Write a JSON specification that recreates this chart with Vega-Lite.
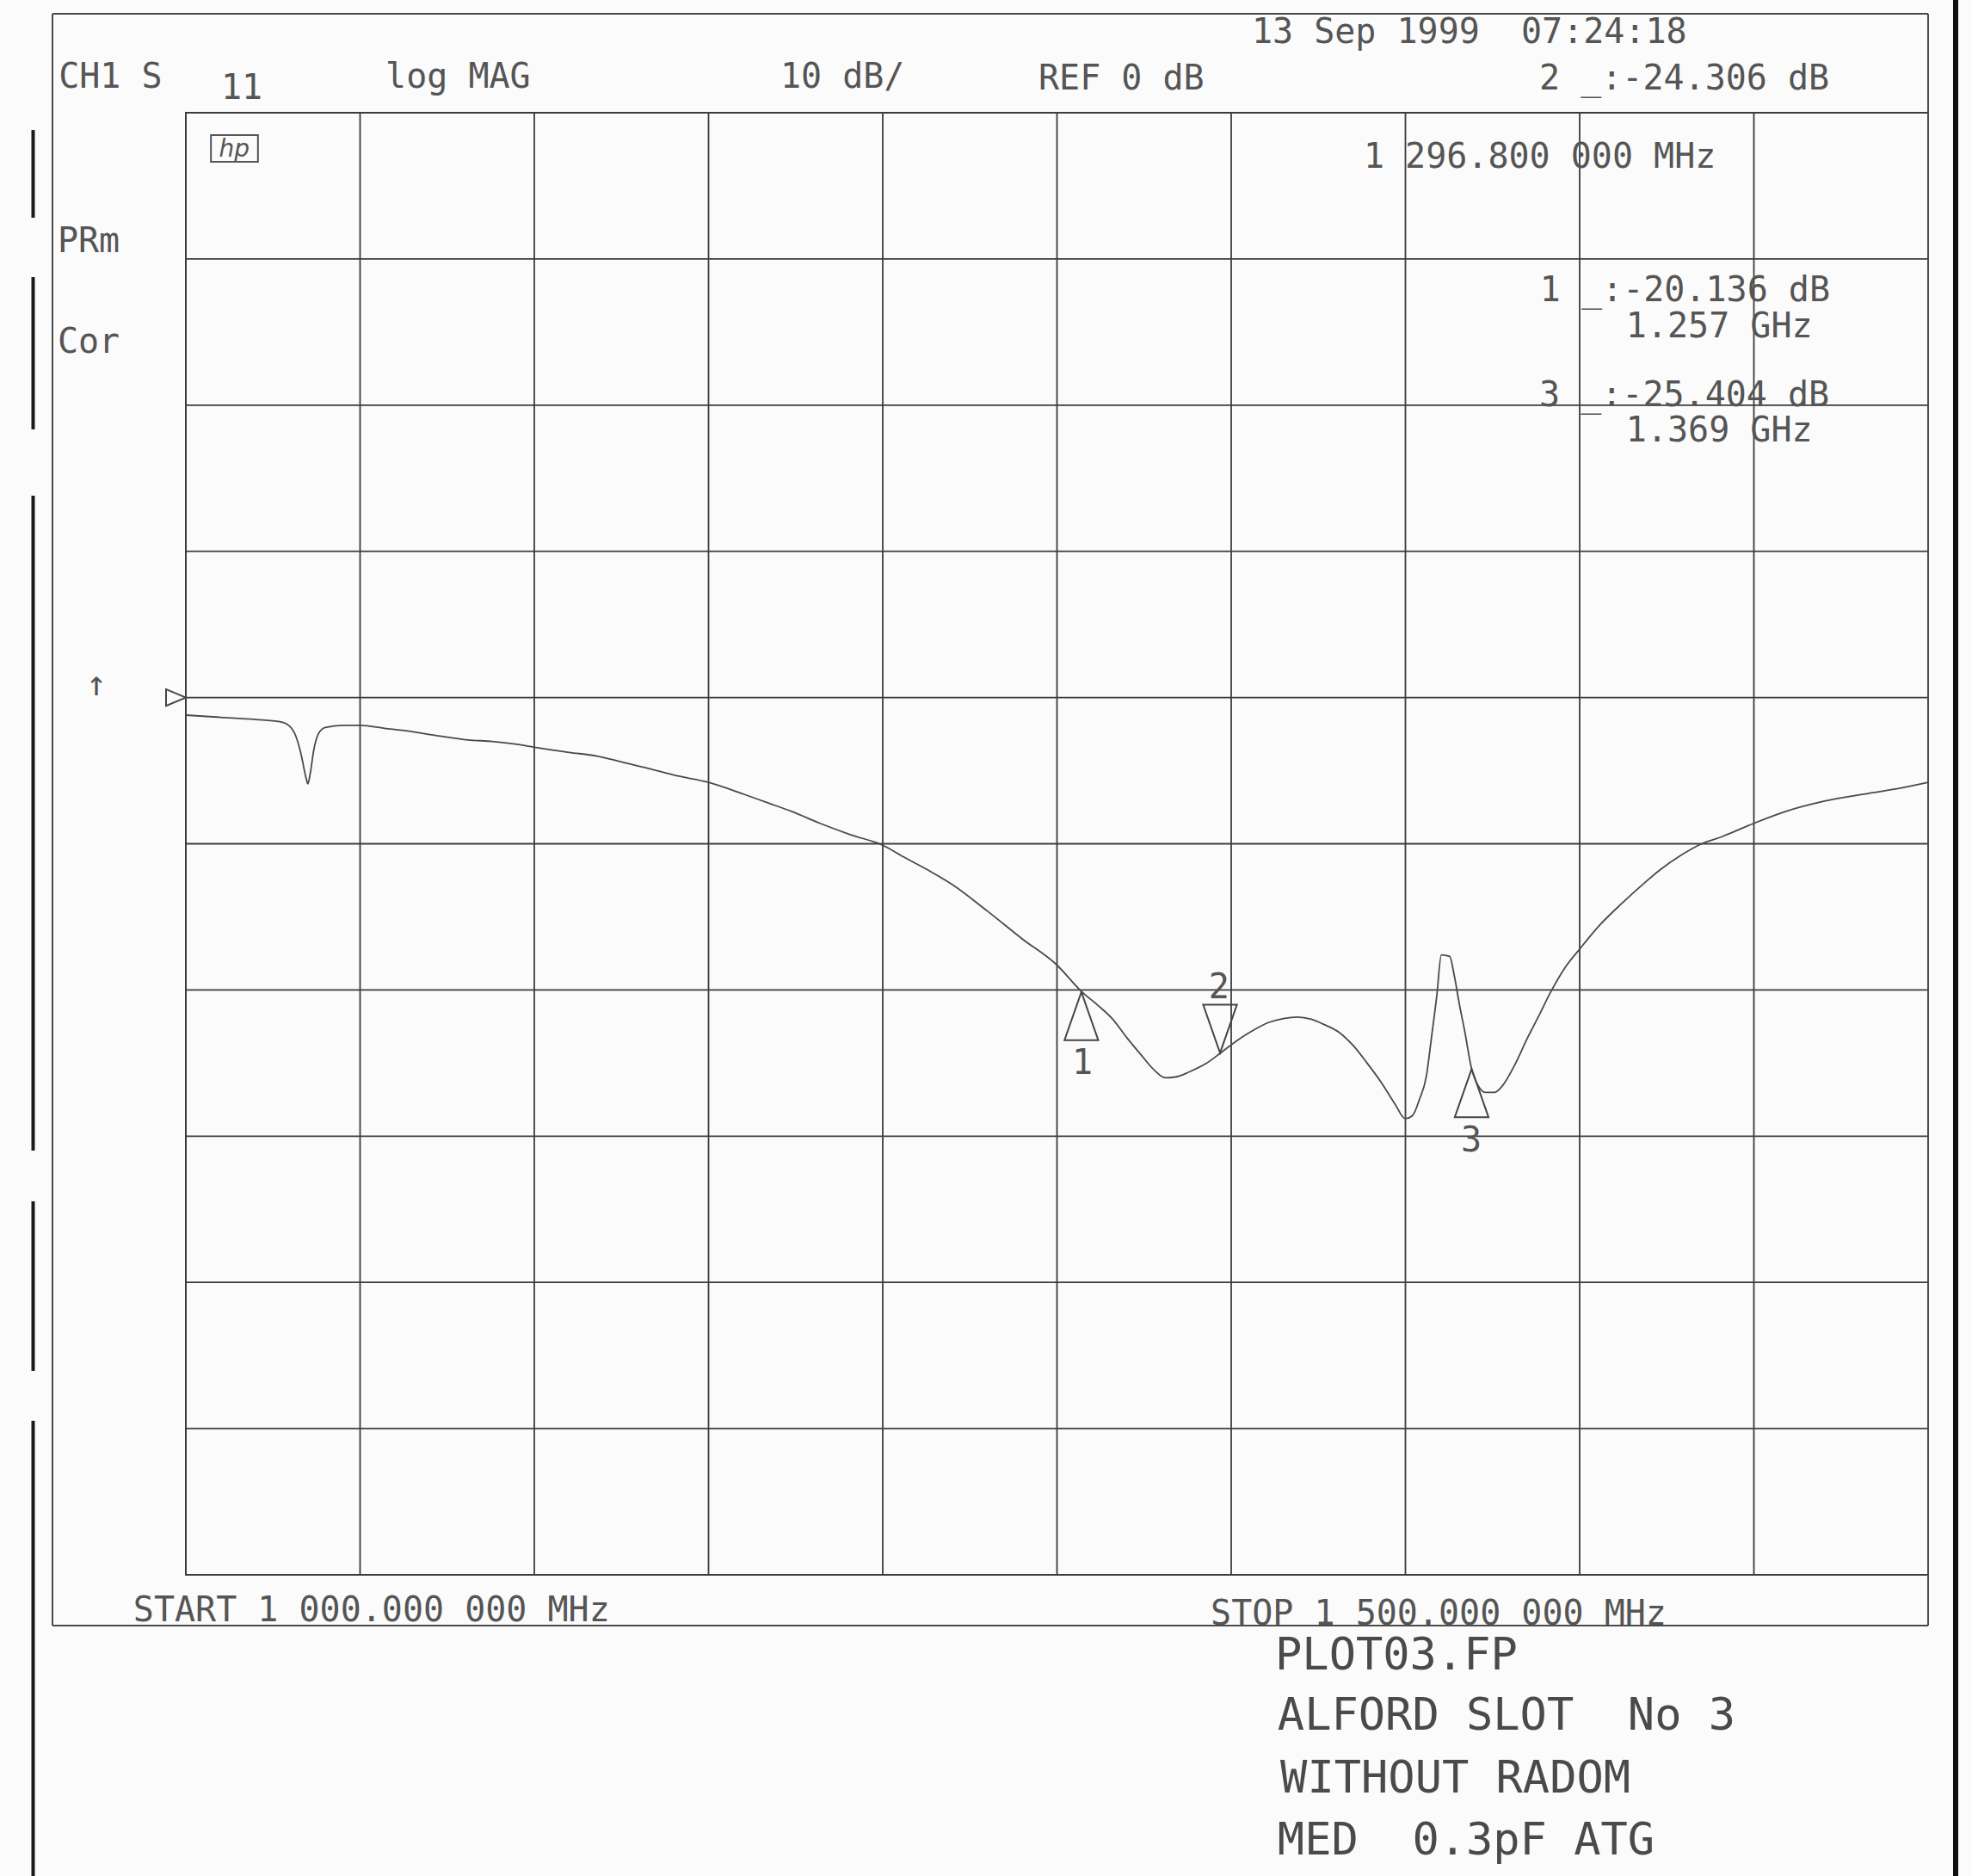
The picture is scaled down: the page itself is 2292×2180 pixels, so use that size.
{
  "$schema": "https://vega.github.io/schema/vega-lite/v6.json",
  "width": 2025,
  "height": 1699,
  "autosize": {"type": "none"},
  "padding": {"left": 216, "top": 131, "right": 51, "bottom": 350},
  "background": "#fbfbfb",
  "config": {"view": {"stroke": "#3c3c3c", "strokeWidth": 2}},
  "datasets": {
    "trace": [
      {"freq": 1000, "db": -1.2}, {"freq": 1010, "db": -1.35}, {"freq": 1020, "db": -1.5}, {"freq": 1027, "db": -1.65},
      {"freq": 1029.5, "db": -1.9}, {"freq": 1031.5, "db": -2.6}, {"freq": 1033, "db": -3.8}, {"freq": 1034.5, "db": -5.5},
      {"freq": 1035, "db": -5.9}, {"freq": 1035.7, "db": -5.2}, {"freq": 1036.7, "db": -3.6}, {"freq": 1038, "db": -2.5},
      {"freq": 1040, "db": -2.05}, {"freq": 1045, "db": -1.9}, {"freq": 1050, "db": -1.9}, {"freq": 1057, "db": -2.1},
      {"freq": 1064, "db": -2.3}, {"freq": 1072, "db": -2.6}, {"freq": 1081, "db": -2.9}, {"freq": 1088, "db": -3.0},
      {"freq": 1095, "db": -3.2}, {"freq": 1100, "db": -3.4}, {"freq": 1110, "db": -3.75}, {"freq": 1118, "db": -4.0},
      {"freq": 1125, "db": -4.4}, {"freq": 1132, "db": -4.8}, {"freq": 1140, "db": -5.3}, {"freq": 1150, "db": -5.8},
      {"freq": 1160, "db": -6.6}, {"freq": 1167, "db": -7.2}, {"freq": 1174, "db": -7.8}, {"freq": 1182, "db": -8.6},
      {"freq": 1191, "db": -9.4}, {"freq": 1200, "db": -10.1}, {"freq": 1206, "db": -10.9}, {"freq": 1213, "db": -11.8},
      {"freq": 1220, "db": -12.8}, {"freq": 1230, "db": -14.6}, {"freq": 1240, "db": -16.5}, {"freq": 1250, "db": -18.3},
      {"freq": 1257, "db": -20.1}, {"freq": 1262, "db": -21.1}, {"freq": 1266, "db": -22.0}, {"freq": 1270, "db": -23.25},
      {"freq": 1274, "db": -24.4}, {"freq": 1278, "db": -25.5}, {"freq": 1281, "db": -26.0}, {"freq": 1284, "db": -25.95},
      {"freq": 1288, "db": -25.6}, {"freq": 1293, "db": -25.0}, {"freq": 1297, "db": -24.3}, {"freq": 1302, "db": -23.4},
      {"freq": 1306, "db": -22.8}, {"freq": 1311, "db": -22.2}, {"freq": 1315, "db": -21.95}, {"freq": 1319, "db": -21.85},
      {"freq": 1323, "db": -22.0}, {"freq": 1327, "db": -22.4}, {"freq": 1331, "db": -22.9}, {"freq": 1335, "db": -23.8},
      {"freq": 1339, "db": -25.0}, {"freq": 1343, "db": -26.3}, {"freq": 1347, "db": -27.8}, {"freq": 1350, "db": -28.8},
      {"freq": 1352, "db": -28.6}, {"freq": 1354, "db": -27.5}, {"freq": 1356, "db": -25.9}, {"freq": 1357.5, "db": -23.2},
      {"freq": 1359, "db": -20.4}, {"freq": 1360.3, "db": -17.6}, {"freq": 1362.7, "db": -17.7}, {"freq": 1364, "db": -19.0},
      {"freq": 1365.5, "db": -21.0}, {"freq": 1367, "db": -22.8}, {"freq": 1369, "db": -25.4}, {"freq": 1371, "db": -26.6},
      {"freq": 1372.8, "db": -27.0}, {"freq": 1375.6, "db": -27.0}, {"freq": 1378, "db": -26.5}, {"freq": 1381, "db": -25.3},
      {"freq": 1385, "db": -23.3}, {"freq": 1388, "db": -21.9}, {"freq": 1392, "db": -20.0}, {"freq": 1396, "db": -18.4},
      {"freq": 1400, "db": -17.2}, {"freq": 1406, "db": -15.5}, {"freq": 1412, "db": -14.1}, {"freq": 1418, "db": -12.8},
      {"freq": 1423, "db": -11.8}, {"freq": 1429, "db": -10.8}, {"freq": 1435, "db": -10.0}, {"freq": 1441, "db": -9.5},
      {"freq": 1450, "db": -8.6}, {"freq": 1459, "db": -7.8}, {"freq": 1470, "db": -7.1}, {"freq": 1483, "db": -6.55},
      {"freq": 1492, "db": -6.2}, {"freq": 1500, "db": -5.8}
    ],
    "vgrid": [{"freq": 1050}, {"freq": 1100}, {"freq": 1150}, {"freq": 1200}, {"freq": 1250}, {"freq": 1300}, {"freq": 1350}, {"freq": 1400}, {"freq": 1450}],
    "hgrid": [{"db": 30}, {"db": 20}, {"db": 10}, {"db": 0}, {"db": -10}, {"db": -20}, {"db": -30}, {"db": -40}, {"db": -50}],
    "markers": [
      {"marker": "1", "freq": 1257, "db": -20.136, "dir": "up"},
      {"marker": "2", "freq": 1296.8, "db": -24.306, "dir": "down"},
      {"marker": "3", "freq": 1369, "db": -25.404, "dir": "up"}
    ],
    "reference": [{"freq": 1000, "db": 0}],
    "hptext": [
      {"label": "CH1 S", "freq": 963.5, "db": 41.71},
      {"label": "11", "freq": 1010.1, "db": 40.94},
      {"label": "log MAG", "freq": 1057.3, "db": 41.71},
      {"label": "10 dB/", "freq": 1170.6, "db": 41.71},
      {"label": "REF 0 dB", "freq": 1244.7, "db": 41.59},
      {"label": "13 Sep 1999\u00a0\u00a007:24:18", "freq": 1305.9, "db": 44.77},
      {"label": "2 _:-24.306 dB", "freq": 1388.4, "db": 41.59},
      {"label": "1 296.800 000 MHz", "freq": 1338.0, "db": 36.23},
      {"label": "1 _:-20.136 dB", "freq": 1388.6, "db": 27.11},
      {"label": "1.257 GHz", "freq": 1413.3, "db": 24.64},
      {"label": "3 _:-25.404 dB", "freq": 1388.4, "db": 19.93},
      {"label": "1.369 GHz", "freq": 1413.3, "db": 17.52},
      {"label": "PRm", "freq": 963.2, "db": 30.47},
      {"label": "Cor", "freq": 963.2, "db": 23.58},
      {"label": "START 1 000.000 000 MHz", "freq": 984.9, "db": -63.18},
      {"label": "STOP 1 500.000 000 MHz", "freq": 1294.1, "db": -63.41}
    ],
    "centertext": [
      {"label": "1", "freq": 1257.3, "db": -25.74},
      {"label": "2", "freq": 1296.5, "db": -20.56},
      {"label": "3", "freq": 1368.9, "db": -31.04},
      {"label": "↑", "freq": 974.3, "db": 0.15}
    ],
    "handwriting": [
      {"label": "PLOT03.FP", "freq": 1312.6, "db": -66.5},
      {"label": "ALFORD SLOT\u00a0\u00a0No 3", "freq": 1313.3, "db": -70.59},
      {"label": "WITHOUT RADOM", "freq": 1314.1, "db": -74.89},
      {"label": "MED\u00a0\u00a00.3pF ATG", "freq": 1313.3, "db": -79.13}
    ],
    "logo": [{"label": "hp", "freq": 1007.2, "freq2": 1020.7, "db": 38.47, "db2": 36.65, "tfreq": 1013.9, "tdb": 37.0}],
    "frame": [
      {"kind": "frame", "freq": 961.73, "freq2": 1500, "db": 46.77, "db2": 46.77},
      {"kind": "frame", "freq": 961.73, "freq2": 961.73, "db": 46.77, "db2": -63.47},
      {"kind": "frame", "freq": 961.73, "freq2": 1500, "db": -63.47, "db2": -63.47},
      {"kind": "frame", "freq": 1500, "freq2": 1500, "db": 46.77, "db2": -63.47},
      {"kind": "edge", "freq": 1507.9, "freq2": 1507.9, "db": 47.71, "db2": -80.6},
      {"kind": "binder", "freq": 956.17, "freq2": 956.17, "db": 38.82, "db2": 32.82},
      {"kind": "binder", "freq": 956.17, "freq2": 956.17, "db": 28.76, "db2": 18.34},
      {"kind": "binder", "freq": 956.17, "freq2": 956.17, "db": 13.81, "db2": -30.98},
      {"kind": "binder", "freq": 956.17, "freq2": 956.17, "db": -34.45, "db2": -46.05},
      {"kind": "binder", "freq": 956.17, "freq2": 956.17, "db": -49.46, "db2": -80.6}
    ]
  },
  "layer": [
    {
      "data": {"name": "vgrid"},
      "mark": {"type": "rule", "color": "#3c3c3c", "strokeWidth": 1.8},
      "encoding": {
        "x": {"field": "freq", "type": "quantitative", "scale": {"domain": [1000, 1500], "nice": false, "zero": false}, "axis": null}
      }
    },
    {
      "data": {"name": "hgrid"},
      "mark": {"type": "rule", "color": "#3c3c3c", "strokeWidth": 1.8},
      "encoding": {
        "y": {"field": "db", "type": "quantitative", "scale": {"domain": [-60, 40], "nice": false, "zero": false}, "axis": null}
      }
    },
    {
      "data": {"name": "trace"},
      "mark": {"type": "line", "color": "#4a4a4a", "strokeWidth": 1.8, "interpolate": "monotone"},
      "encoding": {
        "x": {"field": "freq", "type": "quantitative", "axis": null},
        "y": {"field": "db", "type": "quantitative", "axis": null}
      }
    },
    {
      "data": {"name": "frame"},
      "transform": [{"filter": "datum.kind === 'frame'"}],
      "mark": {"type": "rule", "color": "#4a4a4a", "strokeWidth": 2},
      "encoding": {
        "x": {"field": "freq", "type": "quantitative", "axis": null},
        "x2": {"field": "freq2"},
        "y": {"field": "db", "type": "quantitative", "axis": null},
        "y2": {"field": "db2"}
      }
    },
    {
      "data": {"name": "frame"},
      "transform": [{"filter": "datum.kind === 'edge'"}],
      "mark": {"type": "rule", "color": "#111111", "strokeWidth": 6},
      "encoding": {
        "x": {"field": "freq", "type": "quantitative", "axis": null},
        "x2": {"field": "freq2"},
        "y": {"field": "db", "type": "quantitative", "axis": null},
        "y2": {"field": "db2"}
      }
    },
    {
      "data": {"name": "frame"},
      "transform": [{"filter": "datum.kind === 'binder'"}],
      "mark": {"type": "rule", "color": "#1a1a1a", "strokeWidth": 4},
      "encoding": {
        "x": {"field": "freq", "type": "quantitative", "axis": null},
        "x2": {"field": "freq2"},
        "y": {"field": "db", "type": "quantitative", "axis": null},
        "y2": {"field": "db2"}
      }
    },
    {
      "data": {"name": "markers"},
      "transform": [{"filter": "datum.dir === 'up'"}],
      "mark": {"type": "point", "shape": "M0,0L0.35,1L-0.35,1Z", "size": 12544, "filled": false, "stroke": "#444444", "strokeWidth": 2, "opacity": 1},
      "encoding": {
        "x": {"field": "freq", "type": "quantitative", "axis": null},
        "y": {"field": "db", "type": "quantitative", "axis": null}
      }
    },
    {
      "data": {"name": "markers"},
      "transform": [{"filter": "datum.dir === 'down'"}],
      "mark": {"type": "point", "shape": "M0,0L0.35,-1L-0.35,-1Z", "size": 12544, "filled": false, "stroke": "#444444", "strokeWidth": 2, "opacity": 1},
      "encoding": {
        "x": {"field": "freq", "type": "quantitative", "axis": null},
        "y": {"field": "db", "type": "quantitative", "axis": null}
      }
    },
    {
      "data": {"name": "reference"},
      "mark": {"type": "point", "shape": "M0,0L-1,-0.42L-1,0.42Z", "size": 2116, "filled": false, "stroke": "#444444", "strokeWidth": 2, "opacity": 1},
      "encoding": {
        "x": {"field": "freq", "type": "quantitative", "axis": null},
        "y": {"field": "db", "type": "quantitative", "axis": null}
      }
    },
    {
      "data": {"name": "hptext"},
      "mark": {"type": "text", "align": "left", "baseline": "alphabetic", "font": "DejaVu Sans Mono", "fontSize": 40, "color": "#555555"},
      "encoding": {
        "x": {"field": "freq", "type": "quantitative", "axis": null},
        "y": {"field": "db", "type": "quantitative", "axis": null},
        "text": {"field": "label"}
      }
    },
    {
      "data": {"name": "centertext"},
      "mark": {"type": "text", "align": "center", "baseline": "alphabetic", "font": "DejaVu Sans Mono", "fontSize": 40, "color": "#555555"},
      "encoding": {
        "x": {"field": "freq", "type": "quantitative", "axis": null},
        "y": {"field": "db", "type": "quantitative", "axis": null},
        "text": {"field": "label"}
      }
    },
    {
      "data": {"name": "handwriting"},
      "mark": {"type": "text", "align": "left", "baseline": "alphabetic", "font": "DejaVu Sans Mono", "fontSize": 52, "color": "#4a4a4a"},
      "encoding": {
        "x": {"field": "freq", "type": "quantitative", "axis": null},
        "y": {"field": "db", "type": "quantitative", "axis": null},
        "text": {"field": "label"}
      }
    },
    {
      "data": {"name": "logo"},
      "mark": {"type": "rect", "fill": null, "stroke": "#555555", "strokeWidth": 2},
      "encoding": {
        "x": {"field": "freq", "type": "quantitative", "axis": null},
        "x2": {"field": "freq2"},
        "y": {"field": "db", "type": "quantitative", "axis": null},
        "y2": {"field": "db2"}
      }
    },
    {
      "data": {"name": "logo"},
      "mark": {"type": "text", "align": "center", "baseline": "alphabetic", "font": "DejaVu Sans", "fontStyle": "italic", "fontSize": 28, "color": "#555555"},
      "encoding": {
        "x": {"field": "tfreq", "type": "quantitative", "axis": null},
        "y": {"field": "tdb", "type": "quantitative", "axis": null},
        "text": {"field": "label"}
      }
    }
  ]
}
